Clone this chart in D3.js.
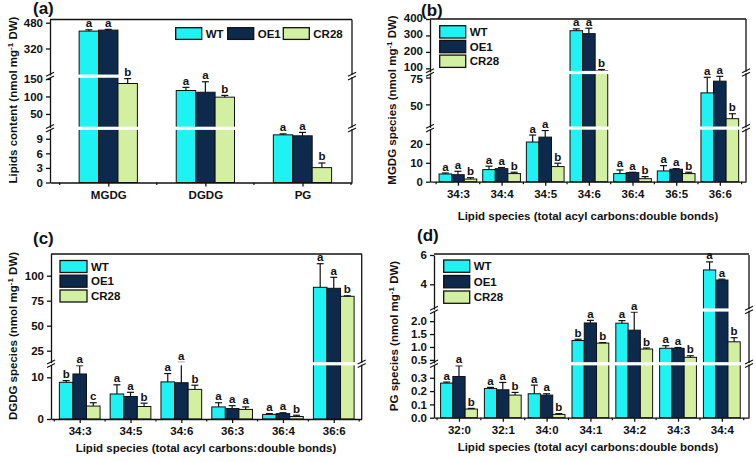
<!DOCTYPE html>
<html><head><meta charset="utf-8">
<script src="https://cdn.jsdelivr.net/npm/d3@7/dist/d3.min.js"></script>
<style>
body{margin:0;background:#fff;}
svg{display:block;}
text{font-family:"Liberation Sans",Arial,sans-serif;font-weight:bold;fill:#111;}
</style></head><body>
<svg id="chart" width="756" height="462"></svg>
<script>
// ---------- DATA ----------
const seriesNames = ["WT", "OE1", "CR28"];

// (a) total lipids
const aCategories = ["MGDG", "DGDG", "PG"];
const aWT = [428, 117, 9.8];      const aWTErr = [8, 9, 0.2];
const aOE1 = [434, 112, 9.6];     const aOE1Err = [5, 30, 0.7];
const aCR28 = [137, 98, 3.06];    const aCR28Err = [14, 5, 0.95];
const aWTLet = ["a","a","a"], aOE1Let = ["a","a","a"], aCR28Let = ["b","b","b"];
const aTicks = [[0,3,6,9],[50,100,150],[320,480]];

// (b) MGDG species
const bCategories = ["34:3","34:4","34:5","34:6","36:4","36:5","36:6"];
const bWT = [4.1, 6.4, 21, 329, 4.3, 5.7, 60.7];   const bWTErr = [0.5, 1.8, 3.7, 11, 1.9, 2.8, 14.5];
const bOE1 = [3.7, 6.9, 23.6, 311, 4.8, 6.6, 71.6]; const bOE1Err = [1.8, 0.6, 3.5, 33, 0.2, 0.3, 4.5];
const bCR28 = [1.4, 4.3, 8, 84, 1.6, 4.3, 36.7];    const bCR28Err = [0.7, 0.7, 1.8, 9, 1.1, 0.7, 4.6];
const bWTLet = ["a","a","a","a","a","a","a"], bOE1Let = ["a","a","a","a","a","a","a"], bCR28Let = ["b","b","b","b","b","b","b"];
const bTicks = [[0,10,20],[50,75],[100,200,300,400]];

// (c) DGDG species
const cCategories = ["34:3","34:5","34:6","36:3","36:4","36:6"];
const cWT = [8.8, 6.0, 8.9, 2.9, 1.1, 88.4];   const cWTErr = [0.4, 2.2, 2.0, 1.0, 0.2, 23.6];
const cOE1 = [10.8, 5.4, 8.7, 2.5, 1.3, 87.4]; const cOE1Err = [2.0, 1.0, 4.6, 0.7, 0.2, 11];
const cCR28 = [3.1, 3.0, 7.1, 2.3, 0.6, 79.4]; const cCR28Err = [0.8, 0.8, 1.0, 0.6, 0.3, 0.5];
const cWTLet = ["b","a","a","a","a","a"], cOE1Let = ["a","a","a","a","a","a"], cCR28Let = ["c","b","b","a","b","b"];
const cTicks = [[0,10],[25,50,75,100]];

// (d) PG species
const dCategories = ["32:0","32:1","34:0","34:1","34:2","34:3","34:4"];
const dWT = [0.26, 0.22, 0.18, 1.25, 1.92, 0.95, 4.98];   const dWTErr = [0.008, 0.008, 0.065, 0.05, 0.1, 0.1, 0.55];
const dOE1 = [0.31, 0.21, 0.17, 1.93, 1.65, 0.95, 4.29];  const dOE1Err = [0.08, 0.055, 0.01, 0.1, 0.7, 0.03, 0.06];
const dCR28 = [0.065, 0.17, 0.025, 1.15, 0.92, 0.6, 1.2]; const dCR28Err = [0.005, 0.02, 0.006, 0.02, 0.04, 0.06, 0.16];
const dWTLet = ["a","a","a","b","a","a","a"], dOE1Let = ["a","a","a","a","a","a","a"], dCR28Let = ["b","b","b","b","b","b","b"];
const dTicks = [[0,0.1,0.2,0.3],[0.5,1.0,1.5,2.0],[4,6]];

// ---------- STYLE / LAYOUT ----------
const colors = ["#1ff2f2", "#0d2a4c", "#d3f0a2"];
const FONT = 11.5;
const fInt = d3.format("d"), f1 = d3.format(".1f");

const panels = [
  { label:"(a)", labelPos:[33,14], box:[50,352,19.5,182.5], xDom:[0.4,3.51], barW:0.2,
    cats:aCategories, vals:[aWT,aOE1,aCR28], errs:[aWTErr,aOE1Err,aCR28Err], lets:[aWTLet,aOE1Let,aCR28Let],
    segs:[{d:[0,11],r:[182.5,129]},{d:[11,155],r:[127.6,77.2]},{d:[155,500],r:[75.1,19.5]}],
    ticks:aTicks, fmt:[fInt,fInt,fInt], tickShift:[0,0,0],
    ytitle:"Lipids content (nmol mg", ytPos:[17,100], xtitle:null,
    legend:{type:"h", x:[175.7,227.7,283.3], y:27.7, w:26, h:11.7} },
  { label:"(b)", labelPos:[421,15.5], box:[430,746,19,181.7], xDom:[0.36,7.6], barW:0.288,
    cats:bCategories, vals:[bWT,bOE1,bCR28], errs:[bWTErr,bOE1Err,bCR28Err], lets:[bWTLet,bOE1Let,bCR28Let],
    segs:[{d:[0,28],r:[181.7,128.8]},{d:[28.6,79],r:[127.4,73.2]},{d:[79,400],r:[71.8,19]}],
    ticks:bTicks, fmt:[fInt,fInt,fInt], tickShift:[0,1.2,-1.2],
    ytitle:"MGDG species (nmol mg", ytPos:[396,100], xtitle:"Lipid species (total acyl carbons:double bonds)", xtPos:[588,220],
    legend:{type:"v", x:439.7, y:[25.7,40.4,55.1], w:26, h:12.3} },
  { label:"(c)", labelPos:[33,244], box:[51,361.7,254,419], xDom:[0.435,6.55], barW:0.267,
    cats:cCategories, vals:[cWT,cOE1,cCR28], errs:[cWTErr,cOE1Err,cCR28Err], lets:[cWTLet,cOE1Let,cCR28Let],
    segs:[{d:[0,13],r:[419,364.8]},{d:[13,122],r:[362.7,253.7]}],
    ticks:cTicks, fmt:[fInt,fInt], tickShift:[0,0],
    ytitle:"DGDG species (nmol mg", ytPos:[17,336], xtitle:"Lipid species (total acyl carbons:double bonds)", xtPos:[206,452],
    legend:{type:"v", x:60, y:[260.5,275.2,290], w:27, h:12} },
  { label:"(d)", labelPos:[417,241], box:[434,749,254,417.7], xDom:[0.43,7.62], barW:0.28,
    cats:dCategories, vals:[dWT,dOE1,dCR28], errs:[dWTErr,dOE1Err,dCR28Err], lets:[dWTLet,dOE1Let,dCR28Let],
    segs:[{d:[0,0.4],r:[417.7,364.5]},{d:[0.38,2.4],r:[363,310.8]},{d:[2.3,6],r:[309.2,255]}],
    ticks:dTicks, fmt:[f1,f1,fInt], tickShift:[0,0,0],
    ytitle:"PG species (nmol mg", ytPos:[398,336], xtitle:"Lipid species (total acyl carbons:double bonds)", xtPos:[588,451],
    legend:{type:"v", x:443.7, y:[260,275.5,291], w:26, h:12.3} }
];

const svg = d3.select("#chart");

panels.forEach(p => {
  const [x0,x1,y0,y1] = p.box;
  const g = svg.append("g");
  const x = d3.scaleLinear().domain(p.xDom).range([x0,x1]);
  const scales = p.segs.map(s => d3.scaleLinear().domain(s.d).range(s.r));
  const y = v => {
    for (let i=0;i<scales.length;i++){
      if (v <= scales[i].domain()[1] || i===scales.length-1) return Math.max(y0, scales[i](v));
    }
  };
  const pxW = x(p.xDom[0]+p.barW) - x(p.xDom[0]);
  const letterItems = [];

  // bars + error bars
  p.vals.forEach((vals, s) => {
    vals.forEach((v, i) => {
      const cx = x(i+1) + (s-1)*pxW;
      g.append("rect")
        .attr("x", cx - pxW/2).attr("width", pxW)
        .attr("y", y(v)).attr("height", y(0) - y(v))
        .attr("fill", colors[s]).attr("stroke", "#111").attr("stroke-width", 1);
      const e = p.errs[s][i];
      const yt = y(v+e);
      g.append("line").attr("x1",cx).attr("x2",cx).attr("y1",y(v)).attr("y2",yt)
        .attr("stroke","#111").attr("stroke-width",1.2);
      g.append("line").attr("x1",cx-3.5).attr("x2",cx+3.5).attr("y1",yt).attr("y2",yt)
        .attr("stroke","#111").attr("stroke-width",1.2);
      letterItems.push({x:cx, y:yt-2.5, t:p.lets[s][i]});
    });
  });

  // break bands
  const breaks = [];
  for (let i=0;i<p.segs.length-1;i++) breaks.push((p.segs[i].r[1] + p.segs[i+1].r[0])/2);
  breaks.forEach(b => {
    g.append("rect").attr("x",x0-1).attr("width",x1-x0+2).attr("y",b-1.6).attr("height",3.2).attr("fill","#fff");
  });

  // left axis segments
  scales.forEach((sc, i) => {
    const ax = d3.axisLeft(sc).tickValues(p.ticks[i]).tickFormat(p.fmt[i]).tickSize(4).tickSizeOuter(0).tickPadding(3);
    const ag = g.append("g").attr("transform",`translate(${x0},0)`).call(ax);
    ag.attr("font-family",null);
    ag.select(".domain").attr("stroke","#111").attr("stroke-width",1.3);
    ag.selectAll(".tick line").attr("stroke","#111").attr("stroke-width",1.3);
    ag.selectAll(".tick text").attr("font-size",FONT).attr("fill","#111")
      .attr("y", p.tickShift[i]);
    g.append("line").attr("x1",x1).attr("x2",x1).attr("y1",sc.range()[0]).attr("y2",sc.range()[1])
      .attr("stroke","#111").attr("stroke-width",1.3);
  });
  // top frame
  g.append("line").attr("x1",x0).attr("x2",x1).attr("y1",y0).attr("y2",y0).attr("stroke","#111").attr("stroke-width",1.3);

  // bottom axis
  const cats = p.cats;
  const xb = d3.axisBottom(x).tickValues(d3.range(1,cats.length+1)).tickFormat((d)=>cats[d-1])
    .tickSize(4).tickSizeOuter(0).tickPadding(4);
  const bg = g.append("g").attr("transform",`translate(0,${y1})`).call(xb);
  bg.attr("font-family",null);
  bg.select(".domain").attr("stroke","#111").attr("stroke-width",1.3);
  bg.selectAll(".tick line").attr("stroke","#111").attr("stroke-width",1.3);
  bg.selectAll(".tick text").attr("font-size",FONT).attr("fill","#111");
  const minor = d3.range(0.5, cats.length+1, 1).filter(v => v>=p.xDom[0] && v<=p.xDom[1]);
  minor.forEach(m => {
    g.append("line").attr("x1",x(m)).attr("x2",x(m)).attr("y1",y1).attr("y2",y1+2.5).attr("stroke","#111").attr("stroke-width",1.2);
  });

  // break symbols
  breaks.forEach(b => {
    [x0, x1].forEach(xa => {
      [-1.8, 1.8].forEach(off => {
        g.append("line").attr("x1",xa-4).attr("x2",xa+4).attr("y1",b+off+2).attr("y2",b+off-2)
          .attr("stroke","#111").attr("stroke-width",1.1);
      });
    });
  });

  // significance letters (on top of everything)
  letterItems.forEach(l => {
    g.append("text").attr("x",l.x).attr("y",l.y).attr("text-anchor","middle")
      .attr("font-size",FONT).text(l.t);
  });

  // panel label
  g.append("text").attr("x",p.labelPos[0]).attr("y",p.labelPos[1]).attr("font-size",17).text(p.label);

  // y title
  const yt = g.append("text").attr("transform",`translate(${p.ytPos[0]},${p.ytPos[1]}) rotate(-90)`)
    .attr("text-anchor","middle").attr("font-size",FONT);
  yt.append("tspan").text(p.ytitle);
  yt.append("tspan").attr("dy",-4).attr("font-size",8).text("-1");
  yt.append("tspan").attr("dy",4).text(" DW)");

  // x title
  if (p.xtitle) {
    g.append("text").attr("x",p.xtPos[0]).attr("y",p.xtPos[1]).attr("text-anchor","middle")
      .attr("font-size",FONT).text(p.xtitle);
  }

  // legend
  const L = p.legend;
  seriesNames.forEach((n, s) => {
    const lx = L.type==="h" ? L.x[s] : L.x;
    const ly = L.type==="h" ? L.y : L.y[s];
    g.append("rect").attr("x",lx).attr("y",ly).attr("width",L.w).attr("height",L.h)
      .attr("fill",colors[s]).attr("stroke","#111").attr("stroke-width",1.3);
    g.append("text").attr("x",lx+L.w+4).attr("y",ly+L.h/2+4.2).attr("font-size",FONT).text(n);
  });
});
</script>
</body></html>
